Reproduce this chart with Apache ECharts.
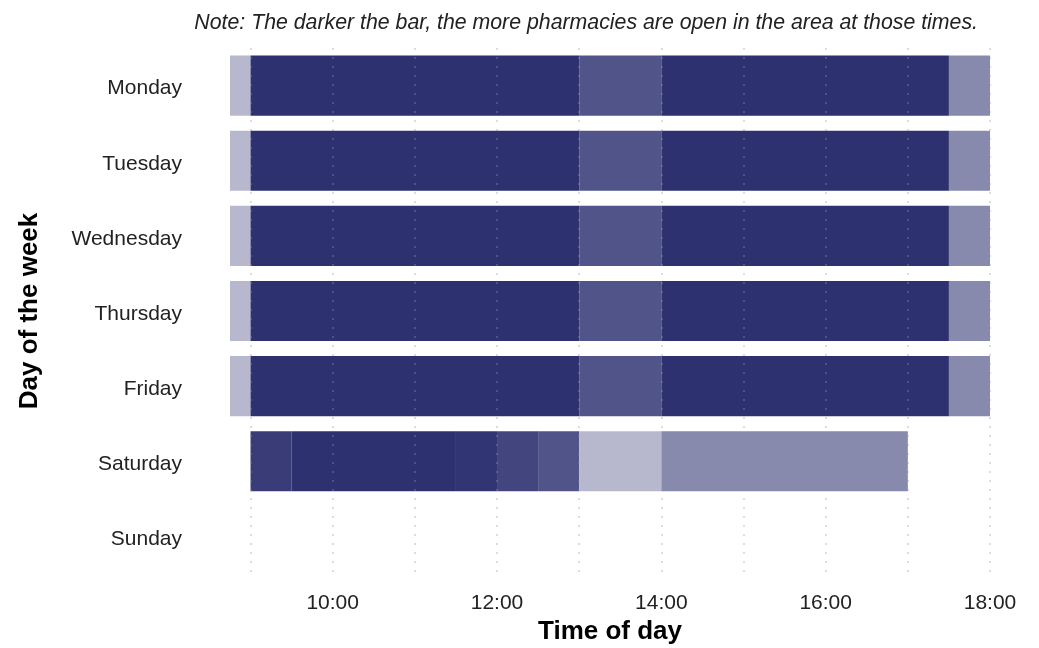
<!DOCTYPE html>
<html>
<head>
<meta charset="utf-8">
<script src="https://cdn.jsdelivr.net/npm/echarts@6/dist/echarts.min.js"></script>
<style>
html,body{margin:0;padding:0;background:#fff;}
#chart{width:1039px;height:648px;}
</style>
</head>
<body>
<div id="chart"></div>
<script>
// Categories
var days = ['Monday','Tuesday','Wednesday','Thursday','Friday','Saturday','Sunday'];
// Tick labels (hours)
var tickHours = [10, 12, 14, 16, 18];
var gridHours = [9, 10, 11, 12, 13, 14, 15, 16, 17, 18];
// Segments per day: start hour, end hour, number of pharmacies open
var weekdayStarts = [8.75, 9, 13, 14, 17.5];
var weekdayEnds   = [9, 13, 14, 17.5, 18];
var weekdayOpen   = [1, 8, 4, 8, 2];
var saturdayStarts = [9, 9.5, 11.5, 12, 12.5, 13, 14];
var saturdayEnds   = [9.5, 11.5, 12, 12.5, 13, 14, 17];
var saturdayOpen   = [6, 8, 7, 5, 4, 1, 2];

var segs = [];
for (var d = 0; d < 5; d++) {
  for (var i = 0; i < weekdayStarts.length; i++) {
    segs.push([weekdayStarts[i], weekdayEnds[i], d, weekdayOpen[i]]);
  }
}
for (var j = 0; j < saturdayStarts.length; j++) {
  segs.push([saturdayStarts[j], saturdayEnds[j], 5, saturdayOpen[j]]);
}
var maxOpen = 8;
function shade(n) {
  var t = (1 - Math.pow(0.67, n)) / (1 - Math.pow(0.67, maxOpen));
  var base = [46, 49, 112];
  var c = base.map(function (v) { return Math.round(255 - (255 - v) * t); });
  return 'rgb(' + c.join(',') + ')';
}

var FONT = 'Liberation Sans, Arial, sans-serif';
var chart = echarts.init(document.getElementById('chart'), null, {renderer: 'canvas'});
chart.setOption({
  animation: false,
  backgroundColor: '#fff',
  textStyle: {fontFamily: FONT},
  title: {
    text: 'Note: The darker the bar, the more pharmacies are open in the area at those times.',
    right: 56,
    top: 8,
    textStyle: {fontSize: 21.3, fontStyle: 'italic', fontWeight: 'normal', color: '#222', fontFamily: FONT}
  },
  grid: {left: 230, right: 49, top: 48, bottom: 74, containLabel: false, outerBoundsMode: 'none'},
  xAxis: {
    type: 'value',
    min: 8.75,
    max: 18,
    name: 'Time of day',
    nameLocation: 'middle',
    nameGap: 41,
    nameTextStyle: {fontSize: 26, fontWeight: 'bold', color: '#000', fontFamily: FONT},
    axisLine: {show: false},
    axisTick: {show: false},
    splitLine: {show: false},
    axisLabel: {
      customValues: tickHours,
      fontSize: 21,
      color: '#222',
      margin: 19,
      fontFamily: FONT,
      formatter: function (v) { return (v < 10 ? '0' : '') + v + ':00'; }
    }
  },
  yAxis: {
    type: 'category',
    data: days,
    inverse: true,
    name: 'Day of the week',
    nameLocation: 'middle',
    nameGap: 187,
    nameRotate: 90,
    nameTextStyle: {fontSize: 26, fontWeight: 'bold', color: '#000', fontFamily: FONT},
    axisLine: {show: false},
    axisTick: {show: false},
    splitLine: {show: false},
    axisLabel: {fontSize: 21, color: '#222', margin: 48, fontFamily: FONT, verticalAlign: 'top', lineHeight: 6}
  },
  series: [
    {
      type: 'custom',
      z: 1,
      data: segs,
      encode: {x: [0, 1], y: 2},
      renderItem: function (params, api) {
        var p0 = api.coord([api.value(0), api.value(2)]);
        var p1 = api.coord([api.value(1), api.value(2)]);
        var h = api.size([0, 1])[1] * 0.8;
        return {
          type: 'rect',
          shape: {x: p0[0], y: p0[1] - h / 2, width: p1[0] - p0[0], height: h},
          style: {fill: shade(api.value(3))}
        };
      }
    },
    {
      type: 'line',
      z: 5,
      data: [],
      markLine: {
        silent: true,
        symbol: ['none', 'none'],
        label: {show: false},
        lineStyle: {type: [2, 7], color: 'rgba(150,150,150,0.45)', width: 1.5},
        data: gridHours.map(function (h) { return {xAxis: h}; })
      }
    }
  ]
});
</script>
</body>
</html>
